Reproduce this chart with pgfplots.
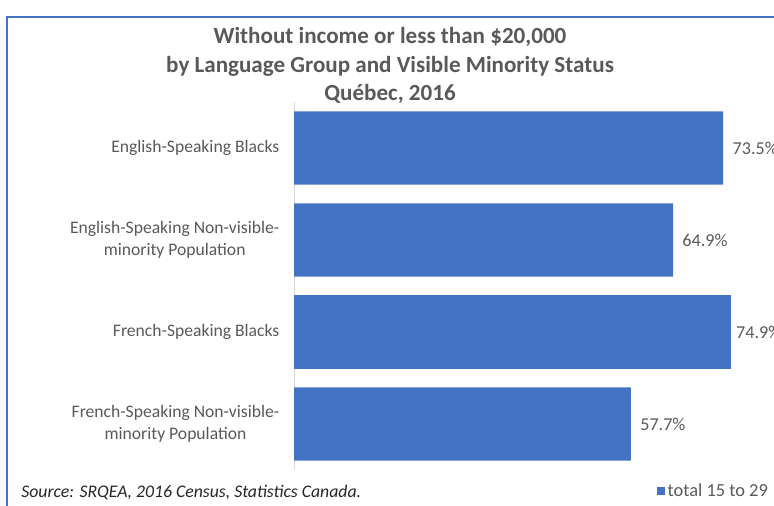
\documentclass[border=0pt]{standalone}
\usepackage{pgfplots}
\pgfplotsset{compat=1.18}
\usepackage{fontspec}
\setmainfont{Carlito}
\definecolor{barblue}{HTML}{4472C4}
\definecolor{txtgray}{HTML}{595959}
\definecolor{axgray}{HTML}{D9D9D9}
\begin{document}
\begin{tikzpicture}
\path[use as bounding box] (0,0) rectangle (580.5pt,379.5pt);
% chart frame (cropped at right and bottom)
\draw[barblue, line width=1.1pt] (5.25pt,-5pt) -- (5.25pt,366.75pt) -- (590pt,366.75pt);
\node[font=\bfseries\fontsize{17.3}{21.5}\selectfont, text=txtgray, align=center]
  at (292.5pt,330.3pt) {Without income or less than \$20,000\\by Language Group and Visible Minority Status\\Québec, 2016};
\begin{axis}[
  at={(220.5pt,27pt)}, anchor=south west,
  scale only axis, width=350.4pt, height=276pt,
  xbar, bar width=55pt, bar shift=0pt,
  xmin=0, xmax=80,
  ymin=-0.5, ymax=3.5, y dir=reverse,
  hide x axis,
  axis y line*=left,
  y axis line style={draw=axgray, line width=0.75pt, -},
  ytick={0,1,2,3},
  yticklabels={English-Speaking Blacks,
    {English-Speaking Non-visible-\\minority Population},
    French-Speaking Blacks,
    {French-Speaking Non-visible-\\minority Population}},
  major tick length=0pt,
  yticklabel style={font=\fontsize{13.2}{16.5}\selectfont, text=txtgray, align=center, xshift=-7.5pt},
  point meta=x,
  nodes near coords={\pgfmathprintnumber[fixed,fixed zerofill,precision=1,assume math mode=true]{\pgfplotspointmeta}\%},
  nodes near coords style={font=\fontsize{13.6}{16}\selectfont, text=txtgray, anchor=west, xshift=3.5pt},
  legend style={at={(0.768,-0.057)}, anchor=west, draw=none, fill=none,
    font=\fontsize{13.8}{16}\selectfont, text=txtgray},
  legend image code/.code={\fill[barblue] (0pt,-3pt) rectangle (6pt,3pt);},
]
\addplot[fill=barblue, draw=none] coordinates {
  (73.5,0) (64.9,1) (57.7,3)
};
\addlegendentry{total 15 to 29}
% this label sits right against its bar in the reference
\addplot[fill=barblue, draw=none, forget plot,
  nodes near coords style={xshift=-3.5pt}] coordinates {
  (74.9,2)
};
\end{axis}
\node[anchor=west, font=\itshape\fontsize{13.3}{16}\selectfont, text=black!85]
  at (12.5pt,10pt) {Source: SRQEA, 2016 Census, Statistics Canada.};
\end{tikzpicture}
\end{document}
